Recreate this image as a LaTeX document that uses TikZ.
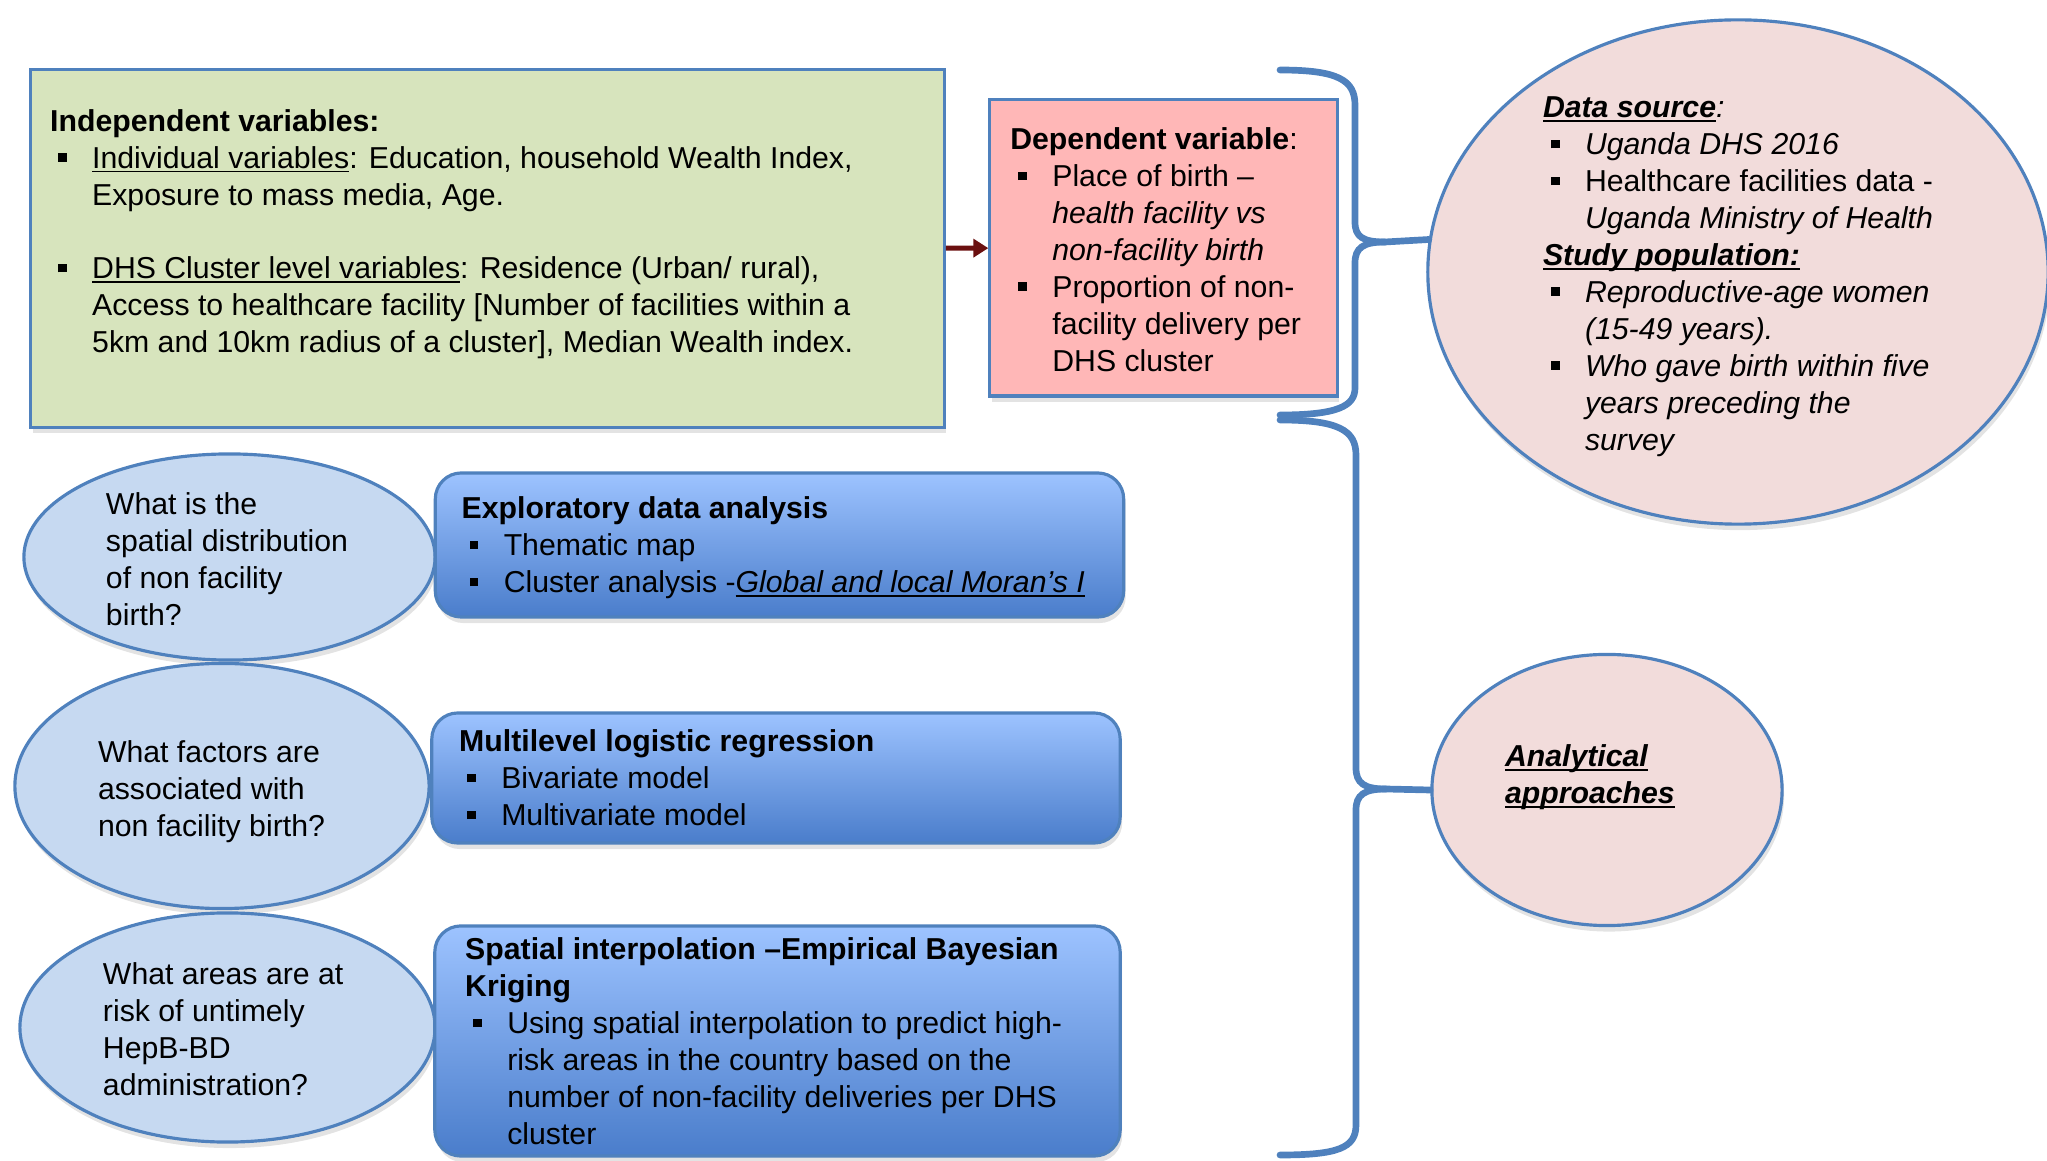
\documentclass[tikz,border=0pt]{standalone}
\usepackage{fontspec}
\setmainfont{Liberation Sans}
\usetikzlibrary{arrows.meta,positioning,shapes.geometric,shadows}

\definecolor{boxline}{HTML}{4F81BD}
\definecolor{varfill}{HTML}{D7E4BD}
\definecolor{depfill}{HTML}{FFB7B7}
\definecolor{srcfill}{HTML}{F2DCDB}
\definecolor{qfill}{HTML}{C6D9F1}
\definecolor{methtop}{HTML}{9DC3FF}
\definecolor{methbot}{HTML}{4A7DCB}
\definecolor{arrowred}{HTML}{6B1010}

% bullet, continuation indent, underline
\newcommand{\bul}{\hspace*{0.08cm}\makebox[0.34cm][l]{\rule[0.065cm]{0.085cm}{0.085cm}}}
\newcommand{\contd}{\hspace*{0.42cm}}
\newcommand{\undl}[1]{\setbox0\hbox{#1}\rlap{\rule[-0.14em]{\wd0}{0.06em}}\box0}

\begin{document}
\begin{tikzpicture}[x=0.01cm, y=-0.01cm,
    txt/.style={anchor=north west, inner sep=0pt, outer sep=0pt, align=left,
                font=\fontsize{8.6}{10.5}\selectfont},
    shade/.style={drop shadow={opacity=0.22, shadow xshift=0.02cm, shadow yshift=-0.06cm}},
    varbox/.style={draw=boxline, line width=0.9pt, fill=varfill, shade},
    depbox/.style={varbox, fill=depfill},
    methbox/.style={draw=boxline, line width=0.9pt, rounded corners=0.26cm,
                    top color=methtop, bottom color=methbot, shade},
    question/.style={ellipse, draw=boxline, line width=0.9pt, fill=qfill, shade},
    source/.style={ellipse, draw=boxline, line width=0.9pt, fill=srcfill, shade},
    brace/.style={draw=boxline, line width=1.9pt, line cap=round},
    >={Triangle[length=0.15cm, width=0.18cm]}]
  \useasboundingbox (0,0) rectangle (2047,1161);

  % variables
  \node[varbox, minimum width=9.13cm, minimum height=3.57cm] (indep) at (487.5,248.5) {};
  \node[depbox, minimum width=3.47cm, minimum height=2.96cm] (dep) at (1163.5,248) {};
  \draw[->, arrowred, line width=1.4pt] (indep) -- (dep);

  \node[txt, below right=0.37cm and 0.21cm of indep.north west] (indep-txt)
    {\strut\textbf{Independent variables:}\\
     \bul\undl{Individual variables}: Education, household Wealth Index,\\
     \contd Exposure to mass media, Age.\\[10.5pt]
     \bul\undl{DHS Cluster level variables}: Residence (Urban/ rural),\\
     \contd Access to healthcare facility [Number of facilities within a\\
     \contd 5km and 10km radius of a cluster], Median Wealth index.};
  \node[txt, below right=0.255cm and 0.22cm of dep.north west] (dep-txt)
    {\strut\textbf{Dependent variable}:\\
     \bul Place of birth --\\
     \contd\textit{health facility vs}\\
     \contd\textit{non-facility birth}\\
     \bul Proportion of non-\\
     \contd facility delivery per\\
     \contd DHS cluster};

  % data source / approaches
  \node[source, minimum width=6.2cm, minimum height=5.04cm] (src) at (1738,272) {};
  \node[source, minimum width=3.5cm, minimum height=2.71cm] (ana) at (1607,790) {};
  \node[txt] (src-txt) at (1543,92)
    {\strut\textbf{\textit{\undl{Data source}}}\textit{:}\\
     \bul\textit{Uganda DHS 2016}\\
     \bul Healthcare facilities data -\\
     \contd\textit{Uganda Ministry of Health}\\
     \textbf{\textit{\undl{Study population:}}}\\
     \bul\textit{Reproductive-age women}\\
     \contd\textit{(15-49 years).}\\
     \bul\textit{Who gave birth within five}\\
     \contd\textit{years preceding the}\\
     \contd\textit{survey}};
  \node[txt] (ana-txt) at (1505,741)
    {\strut\textbf{\textit{\undl{Analytical}}}\\
     \textbf{\textit{\undl{approaches}}}};

  % braces
  \draw[brace] (1280,70) .. controls (1338,70) and (1355,80) .. (1355,105)
    -- (1355,222) .. controls (1355,237) and (1363,242) .. (1385,242) -- (src.174);
  \draw[brace] (1385,242) .. controls (1363,242) and (1355,248) .. (1355,263)
    -- (1355,388) .. controls (1355,406) and (1338,415) .. (1280,415);
  \draw[brace] (1280,420) .. controls (1338,420) and (1356,430) .. (1356,455)
    -- (1356,768) .. controls (1356,783) and (1364,789) .. (1386,789) -- (ana.west);
  \draw[brace] (1386,789) .. controls (1364,789) and (1356,795) .. (1356,810)
    -- (1356,1125) .. controls (1356,1148) and (1338,1155) .. (1280,1155);

  % questions and methods
  \node[question, minimum width=4.11cm, minimum height=2.06cm] (q1) at (229.5,557) {};
  \node[question, minimum width=4.14cm, minimum height=2.45cm] (q2) at (222,786) {};
  \node[question, minimum width=4.15cm, minimum height=2.29cm] (q3) at (227.5,1027.5) {};
  \node[methbox, minimum width=6.88cm, minimum height=1.44cm] (eda) at (779.5,545) {};
  \node[methbox, minimum width=6.88cm, minimum height=1.30cm] (mlr) at (776,778) {};
  \node[methbox, minimum width=6.85cm, minimum height=2.30cm] (ebk) at (777.5,1041) {};

  \node[txt] (q1-txt) at (106,489)
    {\strut What is the\\ spatial distribution\\ of non facility\\ birth?};
  \node[txt] (q2-txt) at (98,737)
    {\strut What factors are\\ associated with\\ non facility birth?};
  \node[txt] (q3-txt) at (103,959)
    {\strut What areas are at\\ risk of untimely\\ HepB-BD\\ administration?};

  \node[txt, below right=0.215cm and 0.28cm of eda.north west] (eda-txt)
    {\strut\textbf{Exploratory data analysis}\\
     \bul Thematic map\\
     \bul Cluster analysis -\textit{\undl{Global and local Moran’s I}}};
  \node[txt, below right=0.145cm and 0.29cm of mlr.north west] (mlr-txt)
    {\strut\textbf{Multilevel logistic regression}\\
     \bul Bivariate model\\
     \bul Multivariate model};
  \node[txt, below right=0.095cm and 0.32cm of ebk.north west] (ebk-txt)
    {\strut\textbf{Spatial interpolation --Empirical Bayesian}\\
     \textbf{Kriging}\\
     \bul Using spatial interpolation to predict high-\\
     \contd risk areas in the country based on the\\
     \contd number of non-facility deliveries per DHS\\
     \contd cluster};
\end{tikzpicture}
\end{document}
